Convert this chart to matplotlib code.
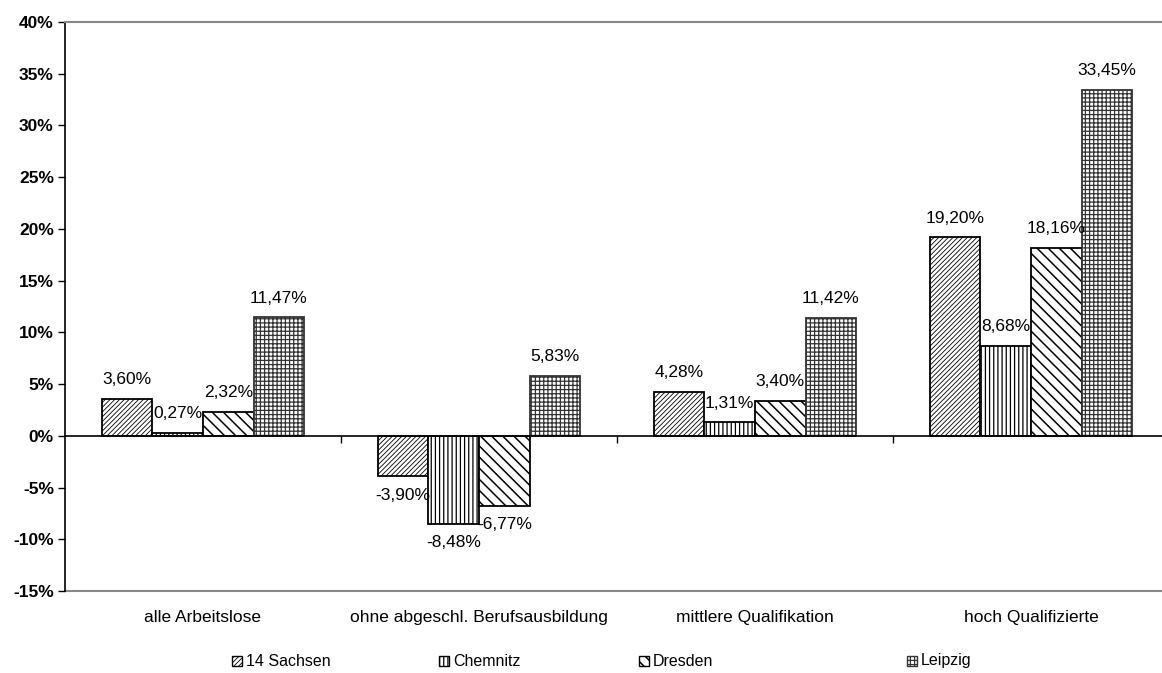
import numpy as np
import matplotlib
matplotlib.use('Agg')
import matplotlib.pyplot as plt
from matplotlib.patches import Rectangle
from matplotlib.ticker import FuncFormatter

plt.rcParams['font.family'] = ['Liberation Sans', 'DejaVu Sans']

categories = ['alle Arbeitslose', 'ohne abgeschl. Berufsausbildung',
              'mittlere Qualifikation', 'hoch Qualifizierte']
series = ['14 Sachsen', 'Chemnitz', 'Dresden', 'Leipzig']
sachsen = [3.60, -3.90, 4.28, 19.20]
chemnitz = [0.27, -8.48, 1.31, 8.68]
dresden = [2.32, -6.77, 3.40, 18.16]
leipzig = [11.47, 5.83, 11.42, 33.45]
values = [sachsen, chemnitz, dresden, leipzig]

hatches = ['///////', '||||', '\\\\\\', '++++']
hatch_lw = [0.6, 0.9, 1.1, 0.9]
edges = ['black', 'black', 'black', '#333333']

fig = plt.figure(figsize=(11.62, 6.73), dpi=100)
ax = fig.add_axes([65 / 1162, 82 / 673, 1104 / 1162, 569 / 673])

x = np.arange(len(categories))
w = 0.183
for i, (name, vals) in enumerate(zip(series, values)):
    plt.rcParams['hatch.linewidth'] = hatch_lw[i]
    pos = x + (i - 1.5) * w
    bars = ax.bar(pos, vals, w, color='white', edgecolor=edges[i],
                  hatch=hatches[i], linewidth=1.3, label=name, zorder=2)
    for b, v in zip(bars, vals):
        off = 13.7 if v >= 0 else -13.7
        ax.annotate(f'{v:.2f}%'.replace('.', ','),
                    (b.get_x() + b.get_width() / 2, v),
                    xytext=(0, off), textcoords='offset points',
                    ha='center', va='center', fontsize=12.5, zorder=3)

ax.set_xlim(-0.5, 3.5)
ax.set_ylim(-15, 40)
ax.set_yticks(np.arange(-15, 41, 5))
ax.yaxis.set_major_formatter(FuncFormatter(lambda v, p: f'{v:.0f}%'))
for t in ax.get_yticklabels():
    t.set_fontweight('bold')
ax.tick_params(axis='y', labelsize=12.5, length=5, width=1, direction='out', pad=3)

# category axis crossing at zero
ax.spines['bottom'].set_position(('data', 0))
ax.spines['bottom'].set_linewidth(1.2)
ax.spines['bottom'].set_zorder(3)
ax.set_xticks([0.5, 1.5, 2.5, 3.5])
ax.set_xticklabels([])
ax.tick_params(axis='x', length=5, width=1, direction='out')
ax.spines['left'].set_linewidth(1.2)
ax.spines['right'].set_visible(False)
ax.spines['top'].set_color('#888888')
ax.spines['top'].set_linewidth(1.5)
ax.axhline(-15, color='#888888', lw=1.5, clip_on=False, zorder=1)

for xi, cat in zip(x, categories):
    ax.text(xi, -0.046, cat, transform=ax.get_xaxis_transform(),
            ha='center', va='center', fontsize=12.5)

# legend drawn at fixed positions like the original
leg_x = [232, 439, 639, 907]
for lx, name, h, ec, hl in zip(leg_x, series, hatches, edges, hatch_lw):
    plt.rcParams['hatch.linewidth'] = hl
    fig.patches.append(Rectangle((lx / 1162, (673 - 666) / 673), 10 / 1162, 10 / 673,
                                 transform=fig.transFigure, facecolor='white',
                                 edgecolor=ec, hatch=h, linewidth=1))
    fig.text((lx + 14) / 1162, (673 - 661) / 673, name, ha='left', va='center',
             fontsize=11.5)

fig.savefig('out.png', dpi=100)
